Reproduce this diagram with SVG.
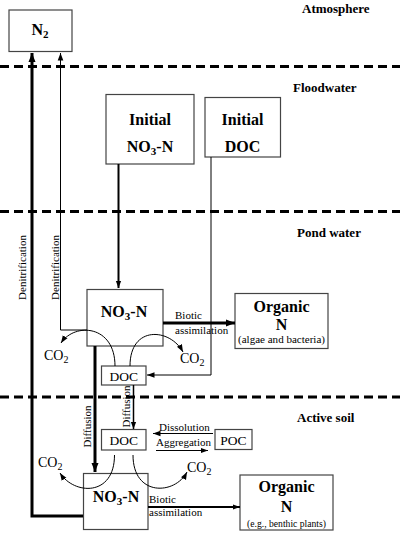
<svg xmlns="http://www.w3.org/2000/svg" width="400" height="535" viewBox="0 0 400 535">
<style>
.bx{fill:none;stroke:#444;stroke-width:1.2}
.zone{font-family:"Liberation Serif",serif;font-weight:bold;font-size:13px;fill:#000}
.big{font-family:"Liberation Serif",serif;font-weight:bold;font-size:16px;fill:#000;text-anchor:middle}
.reg{font-family:"Liberation Serif",serif;font-size:11px;fill:#000}
.co{font-family:"Liberation Serif",serif;font-size:14px;fill:#000}
.sm{font-family:"Liberation Serif",serif;font-size:13.5px;fill:#000;text-anchor:middle}
.note{font-family:"Liberation Serif",serif;font-size:10.5px;fill:#000;text-anchor:middle}
.dash{stroke:#000;stroke-width:3;stroke-dasharray:9 5;fill:none}
.ln{fill:none;stroke:#000}
</style>
<defs>
<marker id="ah" markerUnits="userSpaceOnUse" markerWidth="10" markerHeight="10" viewBox="0 0 10 10" refX="9" refY="5" orient="auto">
<path d="M0,1.5 L9,5 L0,8.5 Z" fill="#000"/>
</marker>
<marker id="as" markerUnits="userSpaceOnUse" markerWidth="8" markerHeight="8" viewBox="0 0 8 8" refX="7.5" refY="4" orient="auto">
<path d="M0,1.2 L7.5,4 L0,6.8 Z" fill="#000"/>
</marker>
</defs>

<g id="zones">
<line class="dash" x1="0" y1="66.5" x2="400" y2="66.5"/>
<line class="dash" x1="0" y1="211.5" x2="400" y2="211.5"/>
<line class="dash" x1="0" y1="397" x2="400" y2="397"/>
<text class="zone" x="302" y="12.5">Atmosphere</text>
<text class="zone" x="293" y="91.5">Floodwater</text>
<text class="zone" x="297" y="236.5">Pond water</text>
<text class="zone" x="297" y="421.5">Active soil</text>
</g>

<g id="n2">
<rect class="bx" x="9" y="10" width="63" height="41.5"/>
<text class="big" x="40" y="35">N<tspan font-size="11" dy="3">2</tspan></text>
</g>

<g id="initial-no3">
<rect class="bx" x="106" y="94.5" width="88" height="69.5"/>
<text class="big" x="150" y="124.5">Initial</text>
<text class="big" x="150" y="151.5">NO<tspan font-size="11" dy="3">3</tspan><tspan dy="-3">-N</tspan></text>
</g>

<g id="initial-doc">
<rect class="bx" x="205" y="97.5" width="75.5" height="59.5"/>
<text class="big" x="242.5" y="124.5">Initial</text>
<text class="big" x="242.5" y="151.5">DOC</text>
</g>

<g id="pond-no3">
<rect class="bx" x="87" y="289.5" width="76" height="56.5"/>
<text class="big" x="124" y="317">NO<tspan font-size="11" dy="3">3</tspan><tspan dy="-3">-N</tspan></text>
</g>

<g id="pond-organic">
<rect class="bx" x="235" y="293.5" width="93" height="55"/>
<text class="big" x="281.5" y="311.5">Organic</text>
<text class="big" x="281.5" y="330">N</text>
<text class="note" x="281.5" y="343" textLength="87" lengthAdjust="spacingAndGlyphs">(algae and bacteria)</text>
</g>

<g id="pond-doc">
<rect class="bx" x="101.5" y="366" width="44.5" height="19"/>
<text class="sm" x="123.7" y="381">DOC</text>
</g>

<g id="soil-doc">
<rect class="bx" x="101.5" y="429.5" width="44.5" height="20.5"/>
<text class="sm" x="123.7" y="445">DOC</text>
</g>

<g id="soil-poc">
<rect class="bx" x="215" y="429.5" width="37" height="20"/>
<text class="sm" x="233.5" y="445">POC</text>
</g>

<g id="soil-no3">
<rect class="bx" x="83.5" y="473.5" width="64.5" height="56"/>
<text class="big" x="116" y="501.5">NO<tspan font-size="11" dy="3">3</tspan><tspan dy="-3">-N</tspan></text>
</g>

<g id="soil-organic">
<rect class="bx" x="240" y="475" width="93" height="55"/>
<text class="big" x="286.5" y="491.5">Organic</text>
<text class="big" x="286.5" y="511.5">N</text>
<text class="note" x="286.5" y="527" textLength="79" lengthAdjust="spacingAndGlyphs">(e.g., benthic plants)</text>
</g>

<g id="connectors">
<path class="ln" stroke-width="3" d="M83,516 H32 V53" marker-end="url(#ah)"/>
<path class="ln" stroke-width="1" d="M87,330 H60.5 V53" marker-end="url(#as)"/>
<path class="ln" stroke-width="2" d="M118.5,164 V288" marker-end="url(#as)"/>
<path class="ln" stroke-width="1" d="M211,157 V375 H147" marker-end="url(#as)"/>
<path class="ln" stroke-width="3" d="M163,323 H235" marker-end="url(#ah)"/>
<path class="ln" stroke-width="1" d="M115,366 C115,325 75,322 61,343" marker-end="url(#as)"/>
<path class="ln" stroke-width="1" d="M130,366 C130,325 170,328 183,352" marker-end="url(#as)"/>
<path class="ln" stroke-width="3" d="M95,346 V472" marker-end="url(#ah)"/>
<path class="ln" stroke-width="1.5" d="M133.5,385 V429" marker-end="url(#as)"/>
<path class="ln" stroke-width="1" d="M213,433.5 H153" marker-end="url(#as)"/>
<path class="ln" stroke-width="1" d="M156,450.5 H208" marker-end="url(#as)"/>
<path class="ln" stroke-width="1" d="M114.5,455 C114.5,497 74,495 60,473" marker-end="url(#as)"/>
<path class="ln" stroke-width="1" d="M133,455 C133,497 175,495 187,472" marker-end="url(#as)"/>
<path class="ln" stroke-width="2" d="M148,507 H240" marker-end="url(#as)"/>
<text class="reg" transform="translate(26,267.5) rotate(-90)" text-anchor="middle" font-size="12">Denitrification</text>
<text class="reg" transform="translate(58.5,267.5) rotate(-90)" text-anchor="middle" font-size="12">Denitrification</text>
<text class="reg" x="175" y="319">Biotic</text>
<text class="reg" x="175" y="334">assimilation</text>
<text class="reg" transform="translate(91,426.5) rotate(-90)" text-anchor="middle">Diffusion</text>
<text class="reg" transform="translate(130,406.5) rotate(-90)" text-anchor="middle">Diffusion</text>
<text class="reg" x="159" y="431">Dissolution</text>
<text class="reg" x="156" y="445.5">Aggregation</text>
<text class="reg" x="149" y="503">Biotic</text>
<text class="reg" x="149" y="515.5">assimilation</text>
<text class="co" x="44" y="360">CO<tspan font-size="10" dy="3">2</tspan></text>
<text class="co" x="180" y="363">CO<tspan font-size="10" dy="3">2</tspan></text>
<text class="co" x="38" y="467">CO<tspan font-size="10" dy="3">2</tspan></text>
<text class="co" x="187" y="472">CO<tspan font-size="10" dy="3">2</tspan></text>
</g>
</svg>
